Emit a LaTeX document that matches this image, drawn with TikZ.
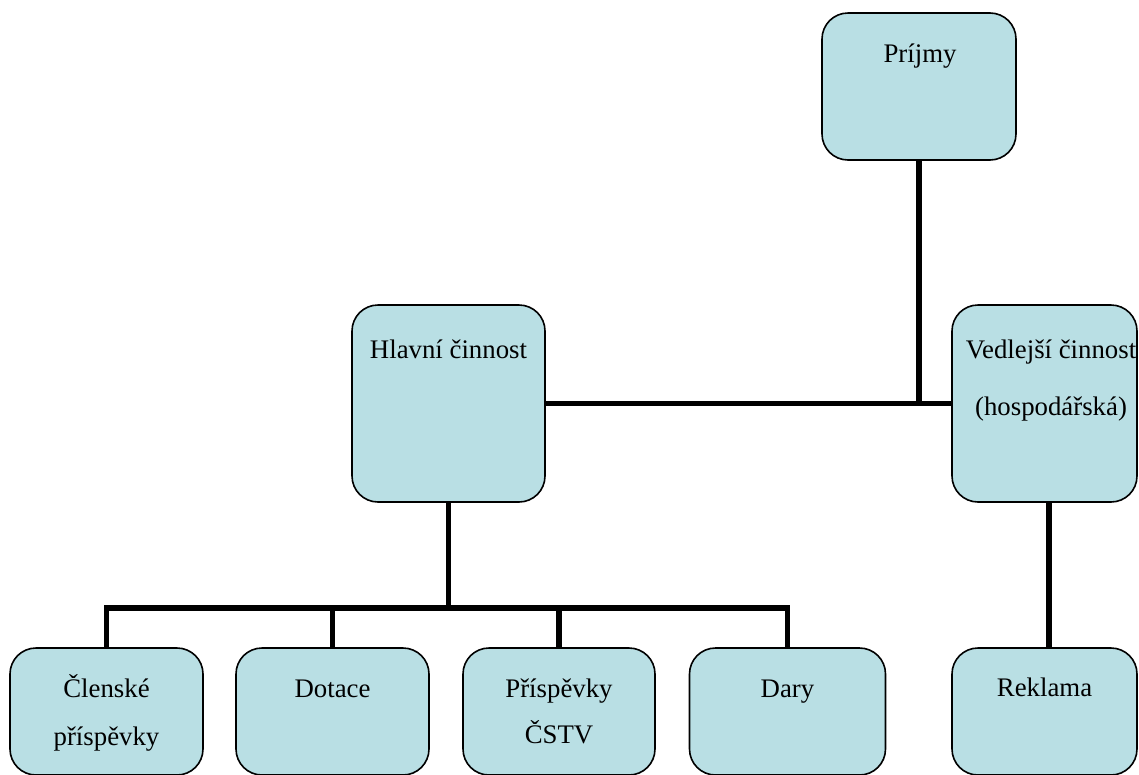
\documentclass[tikz,border=0pt]{standalone}
\usepackage{fontspec}
\setmainfont{Liberation Serif}
\definecolor{boxfill}{RGB}{185,223,228}
\begin{document}
\begin{tikzpicture}[x=1pt,y=-1pt,
  box/.style={draw=black, line width=1.6pt, fill=boxfill, rounded corners=26pt,
    inner sep=0pt, outer sep=0pt},
  txt/.style={anchor=base, inner sep=0pt, font=\fontsize{26.8}{47}\selectfont},
  conn/.style={draw=black, line width=5.5pt, line join=miter, line cap=butt}]
\useasboundingbox (0,0) rectangle (1139,774);
% boxes
\node[box, minimum width=194pt, minimum height=147pt] (pr) at (919,86.5) {};
\node[box, minimum width=193pt, minimum height=197pt] (hl) at (448.5,403.5) {};
\node[box, minimum width=185pt, minimum height=197pt] (ved) at (1044.5,403.5) {};
\node[box, minimum width=193pt, minimum height=127pt] (c1) at (106.5,711.5) {};
\node[box, minimum width=193pt, minimum height=127pt] (c2) at (332.5,711.5) {};
\node[box, minimum width=192pt, minimum height=127pt] (c3) at (559,711.5) {};
\node[box, minimum width=196pt, minimum height=127pt] (c4) at (787.5,711.5) {};
\node[box, minimum width=185pt, minimum height=127pt] (rek) at (1044.5,711.5) {};
% texts
\node[txt] (tpr) at (920,62) {Príjmy};
\node[txt] (thl) at (448.5,358) {Hlavní činnost};
\node[txt] (tved1) at (1051,358) {Vedlejší činnost};
\node[txt] (tved2) at (1051,415) {(hospodářská)};
\node[txt] (tc1a) at (106.5,697) {Členské};
\node[txt] (tc1b) at (106.5,745) {příspěvky};
\node[txt] (tc2) at (332.5,697) {Dotace};
\node[txt] (tc3a) at (559,697) {Příspěvky};
\node[txt] (tc3b) at (559,743) {ČSTV};
\node[txt] (tc4) at (787.5,697) {Dary};
\node[txt] (trek) at (1044.5,696) {Reklama};
% connectors
\coordinate (hbus) at (448.5,608);
\draw[conn] (pr.south) -- (pr.south |- hl.east);
\draw[conn] (hl.east) -- (ved.west);
\draw[conn] ([xshift=4.5pt]ved.south) -- ([xshift=4.5pt]rek.north);
\draw[conn] (hl.south) -- (hbus);
\draw[conn] (c1.north) -- (c1.north |- hbus) -- (c4.north |- hbus) -- (c4.north);
\draw[conn] (c2.north) -- (c2.north |- hbus);
\draw[conn] (c3.north) -- (c3.north |- hbus);
\end{tikzpicture}
\end{document}
